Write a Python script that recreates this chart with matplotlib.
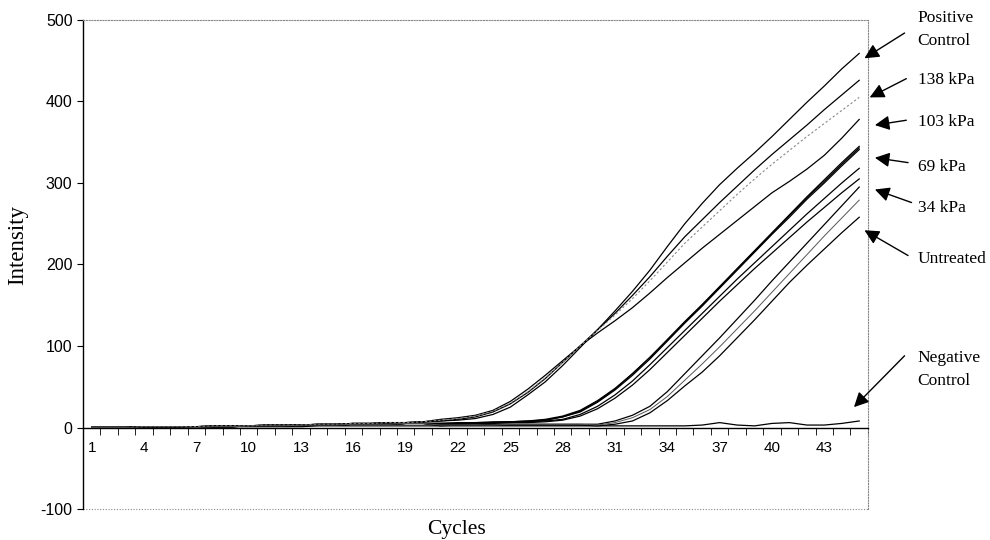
import numpy as np
import matplotlib.pyplot as plt

plt.rcParams["axes.unicode_minus"] = False

# qPCR amplification curves (cycles 1..45)
cycles = np.arange(1, 46)

base_lo = [0, 0, 0, 1, 1, 1, 0, 1, 1, 2, 2, 2, 3, 3, 3, 4, 4, 4, 5, 5]
base_hi = [0, 0, 0, 1, 1, 1, 1, 2, 2, 2, 3, 3, 3, 4, 4, 5, 5, 6, 6, 7]

# group that comes up first
pos_ctrl = base_hi + [8, 9, 11, 16, 25, 40, 56, 76, 98, 120,
                      143, 167, 193, 222, 250, 275, 298, 318, 337, 357,
                      378, 399, 419, 440, 459]
kpa138 = base_hi + [8, 10, 13, 19, 29, 43, 60, 80, 100, 120,
                    140, 162, 185, 210, 234, 255, 276, 296, 316, 335,
                    353, 371, 390, 408, 426]
kpa138_b = base_hi + [9, 11, 14, 20, 30, 44, 61, 80, 100, 119,
                      138, 158, 180, 203, 226, 246, 266, 286, 305, 323,
                      340, 357, 373, 389, 405]
kpa103 = base_hi + [10, 12, 15, 21, 32, 47, 64, 82, 100, 116,
                    131, 147, 165, 184, 202, 220, 237, 254, 271, 288,
                    302, 317, 334, 355, 378]

# middle group
kpa69 = base_lo + [5, 5, 6, 6, 7, 7, 9, 13, 20, 32,
                   47, 66, 86, 108, 130, 151, 173, 195, 217, 239,
                   261, 283, 304, 325, 345]
kpa69_b = base_lo + [5, 5, 6, 6, 7, 8, 10, 14, 21, 33,
                     48, 66, 86, 107, 129, 150, 172, 194, 216, 238,
                     260, 282, 302, 323, 343]
kpa69_c = base_lo + [5, 6, 6, 7, 7, 8, 9, 13, 19, 31,
                     46, 64, 84, 106, 128, 149, 171, 193, 215, 237,
                     258, 280, 300, 321, 341]
kpa34 = base_lo + [4, 5, 5, 6, 6, 7, 8, 10, 16, 26,
                   40, 57, 77, 98, 119, 140, 161, 182, 202, 222,
                   242, 262, 281, 300, 318]
kpa34_b = base_lo + [4, 4, 5, 5, 6, 6, 7, 9, 14, 23,
                     36, 52, 71, 92, 113, 134, 155, 175, 195, 214,
                     233, 252, 270, 288, 305]

# last group
untr = base_lo + [3, 3, 3, 4, 4, 4, 4, 4, 4, 4,
                  8, 15, 26, 44, 66, 88, 110, 133, 156, 180,
                  203, 226, 249, 272, 295]
untr_b = base_lo + [3, 3, 3, 3, 4, 4, 4, 4, 4, 3,
                    6, 12, 22, 38, 58, 78, 99, 121, 143, 166,
                    189, 212, 235, 257, 279]
untr_c = base_lo + [2, 3, 3, 3, 3, 3, 3, 3, 3, 2,
                    4, 8, 18, 33, 51, 68, 88, 110, 132, 155,
                    178, 199, 219, 239, 258]

neg_ctrl = [0, 0, 0, 0, 1, 1, 0, 0, 1, 1, 1, 1, 1, 2, 2, 2, 2, 2, 2, 2,
            2, 2, 2, 2, 2, 2, 2, 2, 2, 2, 2, 2, 2, 2, 2, 3, 6, 3, 2, 5,
            6, 3, 3, 5, 8]

black_curves = [pos_ctrl, kpa138, kpa103, kpa69, kpa69_b, kpa69_c,
                kpa34, kpa34_b, untr, untr_c, neg_ctrl]

labels = ["Positive\nControl", "138 kPa", "103 kPa", "69 kPa", "34 kPa",
          "Untreated", "Negative\nControl"]

fig = plt.figure(figsize=(9.9, 5.4), dpi=100)
ax = fig.add_axes([0.0838, 0.0574, 0.7929, 0.9056])

for y in black_curves:
    ax.plot(cycles, y, color="black", lw=0.9)
ax.plot(cycles, kpa138_b, color="#888888", lw=0.8, ls=(0, (2, 2)))
ax.plot(cycles, untr_b, color="#555555", lw=0.7)

ax.set_xlim(0.5, 45.5)
ax.set_ylim(-100, 500)

# axes frame: solid left axis and x-axis at zero, dotted grey box
ax.spines["bottom"].set_position(("data", 0))
ax.spines["bottom"].set_linewidth(1.0)
ax.spines["left"].set_linewidth(1.0)
for s in ["top", "right"]:
    ax.spines[s].set_color("#888888")
    ax.spines[s].set_linestyle((0, (1, 1.5)))
    ax.spines[s].set_linewidth(0.8)
ax.axhline(-100, color="#888888", ls=(0, (1, 1.5)), lw=0.8, clip_on=False)

ax.set_xticks(np.arange(1, 46, 3))
ax.set_xticks(np.arange(0.5, 46, 1), minor=True)
ax.tick_params(axis="x", which="major", length=0, pad=10,
               labelsize=11, labelfontfamily="Liberation Sans")
ax.tick_params(axis="x", which="minor", length=5, direction="out")
ax.set_yticks(np.arange(-100, 501, 100))
ax.tick_params(axis="y", length=4, direction="out",
               labelsize=11.5, labelfontfamily="Liberation Sans")

fig.text(0.018, 0.546, "Intensity", fontsize=16.5, family="Liberation Serif",
         rotation=90, ha="center", va="center")
fig.text(0.461, 0.019, "Cycles", fontsize=15.5, family="Liberation Serif",
         ha="center", va="center")

# arrow tail and tip, then text anchor, in data units
tails = [(47.6, 484), (47.7, 428), (47.7, 377), (47.8, 325),
         (48.0, 276), (47.8, 211), (47.6, 88)]
tips = [(45.3, 453), (45.6, 405), (45.9, 371), (45.9, 331),
        (45.9, 292), (45.3, 242), (44.7, 25)]
text_pos = [(48.35, 488), (48.35, 426), (48.35, 375), (48.35, 320),
            (48.35, 269), (48.35, 207), (48.35, 71)]
for lab, tail, tip, tp in zip(labels, tails, tips, text_pos):
    ax.annotate("", xy=tip, xytext=tail, annotation_clip=False,
                arrowprops=dict(arrowstyle="-|>", color="black", lw=1.0,
                                mutation_scale=22, shrinkA=0, shrinkB=0))
    ax.text(tp[0], tp[1], lab, fontsize=12.5, family="Liberation Serif",
            ha="left", va="center", clip_on=False, linespacing=1.6)

fig.savefig("out.png", dpi=100)
